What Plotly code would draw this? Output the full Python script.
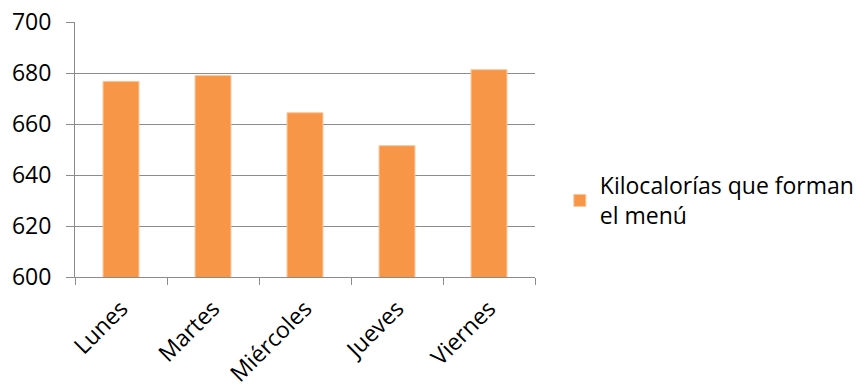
import plotly.graph_objects as go

dias = ["Lunes", "Martes", "Miércoles", "Jueves", "Viernes"]
kilocalorias = [676.7, 679.0, 664.4, 651.5, 681.3]
serie = "Kilocalorías que forman<br>el menú"
y_ticks = [600, 620, 640, 660, 680, 700]

fig = go.Figure(
    go.Bar(
        x=dias,
        y=kilocalorias,
        name=serie,
        marker=dict(color="#F79646", line=dict(color="#FBC59A", width=1)),
        showlegend=True,
    )
)

grid = "#8C8C8C"
fig.update_layout(
    width=856,
    height=384,
    margin=dict(l=75, r=321, t=22, b=107, autoexpand=False),
    paper_bgcolor="white",
    plot_bgcolor="white",
    font=dict(family="Open Sans, sans-serif", size=23, color="#000000"),
    bargap=0.61,
    legend=dict(
        x=1.054, y=0.30, xanchor="left", yanchor="middle",
        font=dict(size=23), itemwidth=30, tracegroupgap=0,
    ),
)
fig.update_xaxes(
    type="category",
    tickangle=-45,
    tickson="boundaries",
    ticks="outside",
    ticklen=7,
    tickcolor=grid,
    showline=True,
    linecolor=grid,
    linewidth=1,
    showgrid=False,
    automargin=False,
    ticklabelstandoff=8,
    tickfont=dict(size=23),
)
fig.update_yaxes(
    range=[600, 700],
    tickvals=y_ticks,
    ticks="outside",
    ticklen=8,
    tickcolor=grid,
    showline=True,
    linecolor=grid,
    showgrid=True,
    gridcolor=grid,
    gridwidth=1,
    zeroline=False,
    automargin=False,
    ticklabelstandoff=10,
    tickfont=dict(size=23),
)

fig.write_html("out.html")
